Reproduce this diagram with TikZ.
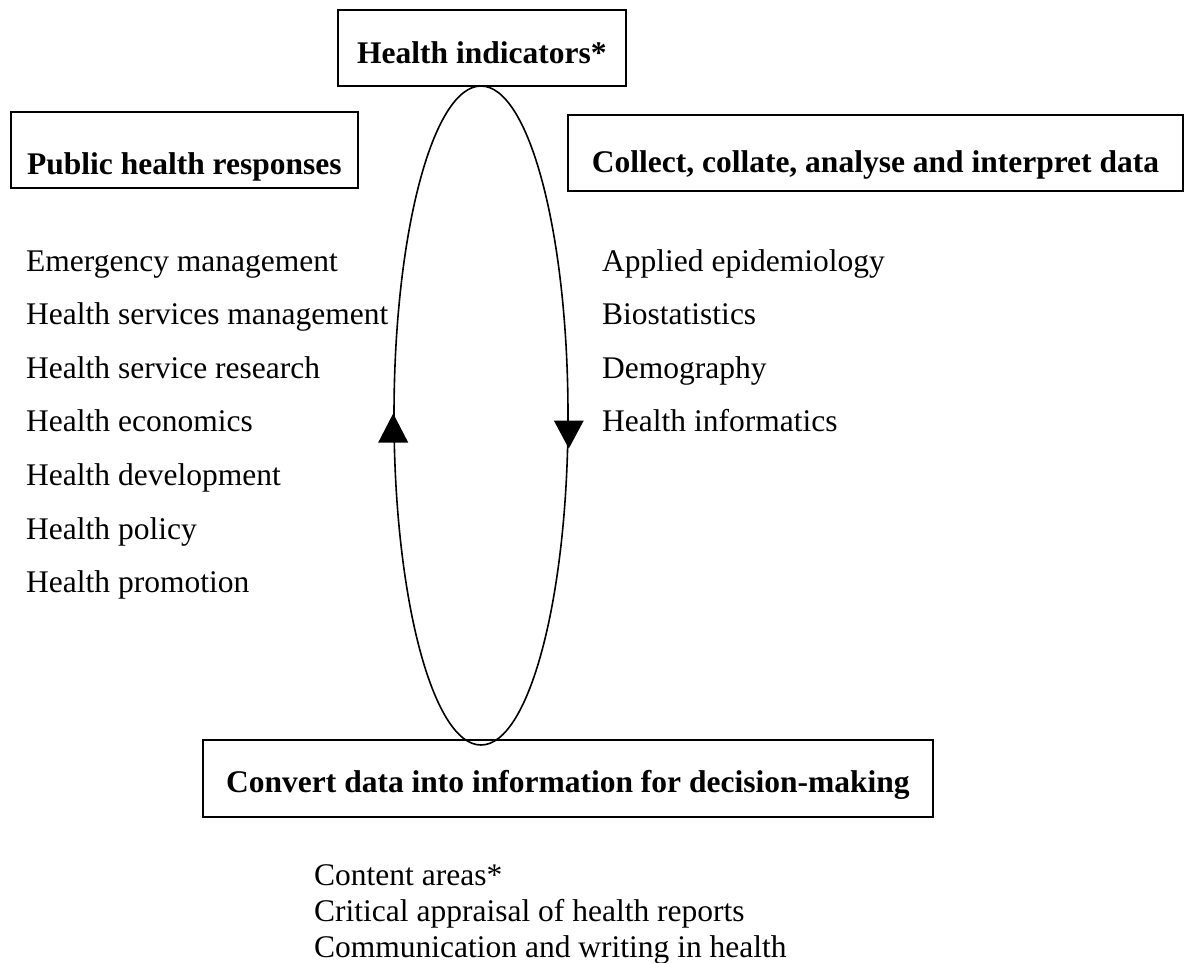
\documentclass[tikz,border=0pt]{standalone}
\usepackage{fontspec}
\setmainfont{Liberation Serif}
\usetikzlibrary{shapes.geometric}

\begin{document}
\begin{tikzpicture}[x=1pt, y=-1pt,
    every node/.style={font=\fontsize{31.5}{36}\selectfont},
    box/.style={draw, line width=1.8pt, anchor=north west, inner xsep=4pt, inner ysep=0pt,
        font=\fontsize{31.5}{36}\selectfont\bfseries},
    item/.style={anchor=base west, inner sep=0pt}]
    \useasboundingbox (0,0) rectangle (1186,962);

    % the cycle
    \node[draw, ellipse, line width=1.6pt, minimum width=174pt, minimum height=659pt, inner sep=0pt]
        (loop) at (481,415.5) {};
    \fill ([yshift=2pt]loop.west) -- ++(-15,29) -- ++(30,0) -- cycle;
    \fill ([yshift=-33pt]loop.east) -- ++(-15,-28) -- ++(30,0) -- cycle;

    % boxes
    \node[box, minimum width=288pt, text height=54pt, text depth=22pt] (indicators) at (337,9) {Health indicators*};
    \node[box, minimum width=347pt, text height=63pt, text depth=13pt] (responses) at (10,111) {Public health responses};
    \node[box, minimum width=615pt, text height=58pt, text depth=18pt] (collect) at (567,114) {Collect, collate, analyse and interpret data};
    \node[box, minimum width=730pt, text height=53pt, text depth=24pt] (convert) at (202,739) {Convert data into information for decision-making};

    % lists
    \foreach \txt [count=\i from 0] in {Emergency management, Health services management,
        Health service research, Health economics, Health development, Health policy, Health promotion}
        \node[item] (resp\i) at (26, 271+53.6*\i) {\txt};
    \foreach \txt [count=\i from 0] in {Applied epidemiology, Biostatistics, Demography, Health informatics}
        \node[item] (method\i) at (602, 271+53.6*\i) {\txt};
    \foreach \txt [count=\i from 0] in {Content areas*, Critical appraisal of health reports,
        Communication and writing in health}
        \node[item] (skill\i) at (314, 885+36*\i) {\txt};
\end{tikzpicture}
\end{document}
